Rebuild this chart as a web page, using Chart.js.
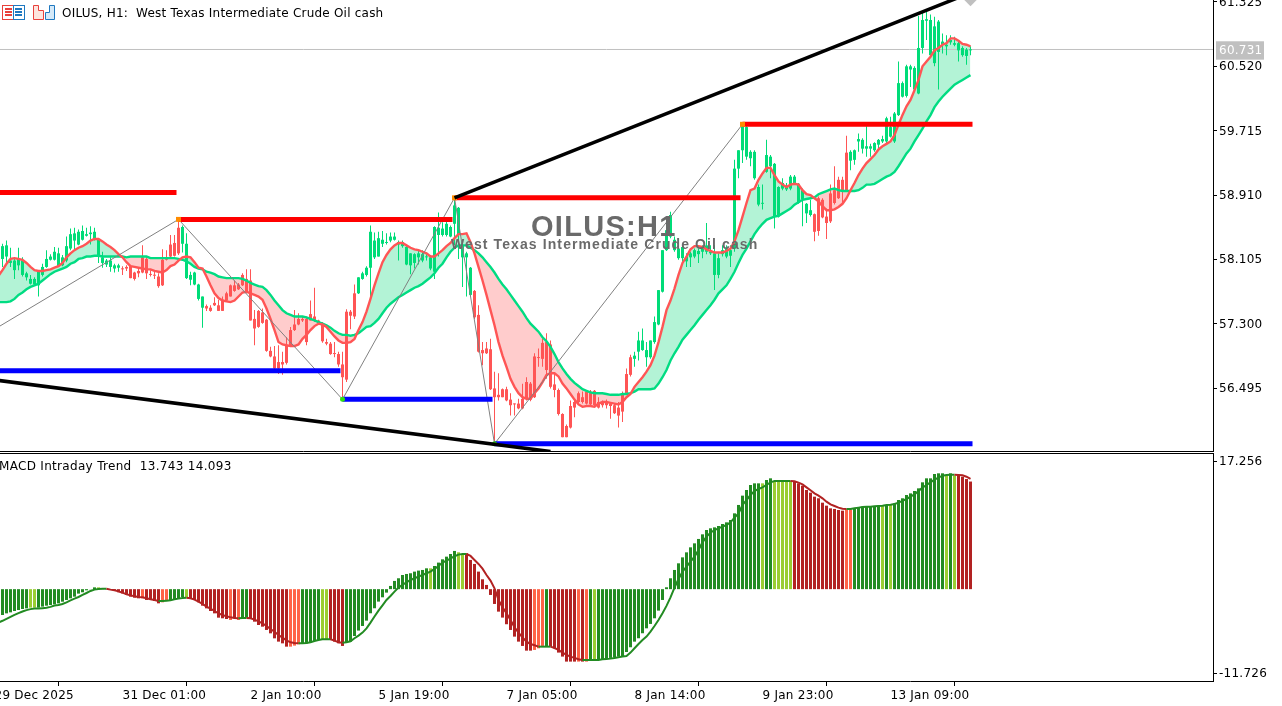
<!DOCTYPE html>
<html>
<head>
<meta charset="utf-8">
<title>OILUS, H1</title>
<script src="https://cdn.jsdelivr.net/npm/chart.js@4"></script>
<style>
  html, body { margin: 0; padding: 0; background: #fff; overflow: hidden; }
  #stage { position: relative; width: 1282px; height: 706px; overflow: hidden; }
  canvas { position: absolute; left: 0; display: block; }
  #priceChart { top: 0; }
  #macdChart { top: 454px; }
  #sep { position: absolute; left: 0; top: 453px; width: 1214px; height: 1px; background: #000; }
  .label { position: absolute; font: 12px "DejaVu Sans", sans-serif; letter-spacing: 0.22px; color: #000; white-space: pre; line-height: 14px; }
  svg { position: absolute; top: 4px; }
</style>
</head>
<body>
<div id="stage">
  <canvas id="priceChart" width="1282" height="452"></canvas>
  <div id="sep"></div>
  <canvas id="macdChart" width="1282" height="252"></canvas>
  <svg style="left:2px" width="23" height="17" viewBox="0 0 23 17">
    <rect x="0.5" y="1.5" width="11" height="14" fill="#fff" stroke="#e8413c"/>
    <rect x="11.5" y="1.5" width="11" height="14" fill="#fff" stroke="#1f78c0"/>
    <path d="M3 5h7M3 8h7M3 11h7" stroke="#e8413c" stroke-width="2"/>
    <path d="M13 5h7M13 8h7M13 11h7" stroke="#1f78c0" stroke-width="2"/>
  </svg>
  <svg style="left:33px" width="23" height="17" viewBox="0 0 23 17">
    <path d="M0.5 1.5h5v5h5v9h-10z" fill="#fde4de" stroke="#e8413c"/>
    <path d="M12.5 15.5v-7h4v-7h5v14z" fill="#d5e9f8" stroke="#1f78c0"/>
  </svg>
  <div class="label" style="left:62px;top:6px">OILUS, H1:  West Texas Intermediate Crude Oil cash</div>
  <div class="label" style="left:-1px;top:459px;letter-spacing:0.31px">MACD Intraday Trend  13.743 14.093</div>
</div>
<script>
const xTickIndex = [-2, 30, 62, 94, 126, 158, 190, 222];
const xTickLabels = ["29 Dec 2025", "31 Dec 01:00", "2 Jan 10:00", "5 Jan 19:00", "7 Jan 05:00", "8 Jan 14:00", "9 Jan 23:00", "13 Jan 09:00"];

const priceTicks = [61.325, 60.731, 60.520, 59.715, 58.910, 58.105, 57.300, 56.495];
const currentPrice = 60.731;
const macdTickValues = [16.36, -10.71];
const macdTickLabels = ["17.256", "-11.726"];

const highs = [
  58.30,58.34,58.25,58.13,58.25,58.13,57.95,57.91,57.88,57.96,
  58.05,58.22,58.17,58.26,58.25,58.16,58.39,58.49,58.50,58.48,
  58.53,58.50,58.52,58.50,58.35,58.20,58.11,58.13,58.05,58.05,
  58.02,58.03,58.02,57.95,57.99,58.28,58.13,57.97,57.95,57.93,
  58.23,58.22,58.41,58.41,58.60,58.53,58.43,57.95,57.95,57.80,
  57.64,57.54,57.53,57.63,57.60,57.64,57.70,57.79,57.84,57.81,
  57.93,57.98,57.98,57.47,57.47,57.49,57.36,57.01,57.02,57.03,
  56.95,57.13,57.26,57.47,57.43,57.39,57.39,57.59,57.75,57.35,
  57.32,57.11,57.07,57.07,56.95,56.95,57.48,57.47,57.79,57.88,
  57.95,58.02,58.53,58.44,58.45,58.46,58.43,58.44,58.44,58.34,
  58.34,58.29,58.18,58.18,58.22,58.22,58.18,58.16,58.52,58.69,
  58.57,58.59,58.53,58.87,58.76,58.30,58.20,58.01,57.72,57.53,
  57.07,57.07,57.11,56.70,56.68,56.49,56.51,56.43,56.30,56.36,
  56.55,56.63,56.57,56.93,56.99,57.11,57.18,57.09,56.68,56.49,
  56.18,56.04,56.34,56.34,56.45,56.45,56.47,56.47,56.47,56.38,
  56.34,56.35,56.32,56.30,56.32,56.45,56.74,56.91,56.95,57.20,
  57.24,57.07,57.09,57.39,57.72,58.22,58.55,58.70,58.39,58.26,
  58.28,58.18,58.20,58.24,58.24,58.28,58.56,58.28,58.28,58.18,
  58.28,58.28,58.28,59.35,59.47,59.79,59.77,59.47,59.47,59.04,
  59.04,59.60,59.41,59.31,59.02,59.12,59.06,59.16,59.16,59.06,
  58.99,58.81,58.85,58.68,58.89,58.87,58.74,59.04,59.27,59.14,
  59.14,59.65,59.47,59.48,59.68,59.62,59.77,59.55,59.57,59.61,
  59.65,59.89,59.89,59.95,60.58,60.33,60.54,60.54,60.52,61.15,
  61.19,61.20,61.17,61.14,61.10,60.93,60.91,60.91,60.89,60.83,
  60.77,60.75,60.77
];
const lows = [
  58.01,58.05,58.01,57.86,57.97,57.89,57.84,57.79,57.78,57.64,
  57.89,58.00,58.09,58.09,58.01,58.02,58.07,58.22,58.23,58.28,
  58.34,58.39,58.29,58.34,58.06,58.00,58.01,57.95,57.94,57.95,
  57.91,57.96,57.87,57.84,57.88,57.93,57.86,57.89,57.86,57.75,
  57.77,58.09,58.13,58.14,58.16,58.19,57.86,57.78,57.78,57.59,
  57.25,57.46,57.45,57.52,57.46,57.46,57.57,57.64,57.70,57.72,
  57.77,57.68,57.34,57.03,57.25,57.30,56.95,56.88,56.73,56.67,
  56.66,56.79,57.01,57.21,57.28,57.32,57.03,57.34,57.32,57.29,
  57.06,57.03,56.91,56.88,56.76,56.35,56.57,57.23,57.36,57.67,
  57.85,57.89,57.61,58.11,58.14,58.26,58.29,58.32,58.34,58.09,
  58.25,58.03,57.92,57.99,58.04,58.07,58.09,57.97,57.86,58.14,
  58.39,58.39,58.38,58.28,58.11,57.76,57.64,57.64,57.36,56.94,
  56.78,56.92,56.47,55.80,56.34,56.38,56.33,56.15,56.15,56.23,
  56.23,56.34,56.33,56.37,56.76,56.76,56.61,56.49,56.38,56.15,
  55.88,55.88,55.99,56.13,56.30,56.30,56.29,56.27,56.26,56.24,
  56.25,56.24,56.11,56.17,56.00,56.07,56.42,56.64,56.76,56.84,
  56.96,56.76,56.86,57.05,57.28,57.69,58.21,58.37,58.20,58.10,
  58.06,58.01,58.01,58.12,58.06,58.12,58.17,58.16,57.72,57.87,
  58.14,58.12,58.01,58.20,59.12,59.31,59.35,59.27,59.10,58.77,
  58.73,59.19,59.12,58.49,58.63,58.97,58.96,58.97,59.05,58.80,
  58.52,58.56,58.64,58.33,58.40,58.62,58.36,58.56,58.79,58.86,
  58.81,58.96,59.22,59.29,59.45,59.43,59.39,59.39,59.45,59.49,
  59.56,59.56,59.63,59.56,59.90,60.13,60.13,60.26,60.22,60.17,
  60.68,60.85,60.64,60.52,60.23,60.68,60.66,60.79,60.77,60.58,
  60.64,60.54,60.66
];
const bodyTops = [
  58.27,58.28,58.09,58.09,58.11,58.09,57.93,57.86,57.86,57.95,
  58.01,58.11,58.14,58.20,58.18,58.13,58.27,58.42,58.43,58.45,
  58.46,58.42,58.44,58.45,58.35,58.13,58.09,58.09,58.03,58.03,
  57.99,58.01,58.02,57.94,57.96,58.13,58.11,57.92,57.91,57.89,
  58.10,58.13,58.29,58.31,58.50,58.51,58.30,57.91,57.94,57.79,
  57.64,57.52,57.50,57.56,57.53,57.60,57.68,57.78,57.78,57.79,
  57.91,57.86,57.84,57.36,57.46,57.44,57.35,56.96,56.89,56.82,
  56.82,57.03,57.22,57.29,57.36,57.36,57.36,57.42,57.39,57.34,
  57.29,57.07,57.05,56.93,56.92,56.79,57.45,57.45,57.68,57.88,
  57.93,58.00,58.45,58.34,58.37,58.35,58.32,58.39,58.39,58.32,
  58.32,58.26,58.18,58.17,58.18,58.17,58.14,58.13,58.51,58.50,
  58.49,58.55,58.51,58.78,58.75,58.28,58.18,58.00,57.71,57.41,
  56.97,56.99,56.98,56.49,56.41,56.48,56.48,56.35,56.30,56.30,
  56.36,56.57,56.55,56.89,56.88,57.06,57.07,57.04,56.54,56.47,
  56.17,56.02,56.27,56.32,56.43,56.38,56.45,56.45,56.46,56.32,
  56.31,56.32,56.30,56.28,56.25,56.43,56.67,56.88,56.90,57.09,
  57.09,56.97,57.09,57.32,57.72,58.22,58.47,58.66,58.35,58.24,
  58.26,58.14,58.18,58.22,58.21,58.24,58.28,58.20,58.18,58.12,
  58.22,58.24,58.22,59.24,59.47,59.77,59.76,59.45,59.45,59.01,
  58.81,59.41,59.39,59.30,59.01,59.06,59.01,59.14,59.14,59.05,
  58.97,58.80,58.72,58.67,58.87,58.85,58.64,58.93,58.97,59.10,
  59.10,59.44,59.45,59.47,59.61,59.60,59.52,59.52,59.56,59.60,
  59.61,59.87,59.76,59.93,60.31,60.31,60.52,60.52,60.50,60.75,
  61.10,61.11,61.10,61.02,61.08,60.83,60.79,60.85,60.81,60.81,
  60.75,60.73,60.73
];
const bodyBottoms = [
  58.11,58.14,58.06,57.97,58.03,57.91,57.88,57.80,57.79,57.78,
  57.91,58.01,58.10,58.10,58.02,58.03,58.09,58.24,58.34,58.29,
  58.35,58.40,58.42,58.35,58.14,58.06,58.04,58.01,57.99,58.00,
  57.98,57.99,57.87,57.86,57.93,57.94,57.93,57.91,57.90,57.77,
  57.78,58.10,58.14,58.15,58.18,58.30,57.87,57.85,57.79,57.61,
  57.50,57.49,57.46,57.53,57.46,57.46,57.59,57.64,57.71,57.73,
  57.78,57.70,57.34,57.24,57.26,57.31,56.96,56.89,56.74,56.74,
  56.79,56.81,57.02,57.22,57.29,57.34,57.07,57.34,57.34,57.31,
  57.08,57.05,56.92,56.92,56.79,56.63,56.60,57.40,57.39,57.68,
  57.86,57.91,58.00,58.13,58.14,58.30,58.31,58.34,58.35,58.29,
  58.27,58.04,58.03,58.06,58.13,58.09,58.13,57.99,57.95,58.41,
  58.41,58.41,58.39,58.55,58.41,58.13,58.13,57.66,57.38,56.95,
  56.93,56.93,56.48,56.38,56.38,56.38,56.34,56.28,56.29,56.24,
  56.24,56.36,56.35,56.38,56.87,56.86,56.72,56.51,56.47,56.17,
  55.88,55.88,56.00,56.25,56.32,56.32,56.30,56.29,56.28,56.25,
  56.28,56.28,56.27,56.18,56.15,56.20,56.43,56.66,56.86,56.95,
  56.97,56.88,56.88,57.07,57.29,57.70,58.22,58.39,58.22,58.12,
  58.12,58.08,58.13,58.14,58.17,58.20,58.20,58.18,57.91,57.91,
  58.17,58.14,58.15,58.24,59.24,59.47,59.39,59.37,59.12,58.79,
  58.80,59.20,59.27,58.64,58.64,58.99,58.98,58.99,59.06,58.81,
  58.86,58.68,58.66,58.45,58.46,58.63,58.56,58.58,58.81,58.87,
  58.95,58.97,59.34,59.35,59.58,59.49,59.49,59.49,59.47,59.54,
  59.58,59.58,59.64,59.58,59.91,60.14,60.15,60.48,60.23,60.18,
  60.75,61.09,60.66,60.56,60.70,60.79,60.77,60.82,60.79,60.72,
  60.66,60.65,60.72
];
const fastMa = [
  57.97,58.05,58.11,58.12,58.11,58.10,58.06,58.01,57.97,57.96,
  57.96,57.97,57.98,58.00,58.02,58.06,58.13,58.18,58.22,58.25,
  58.27,58.30,58.34,58.36,58.36,58.33,58.29,58.26,58.22,58.17,
  58.13,58.07,58.02,58.01,58.00,57.99,57.98,57.98,57.96,57.95,
  57.94,57.97,58.02,58.04,58.09,58.13,58.14,58.13,58.07,58.00,
  57.99,57.89,57.78,57.68,57.62,57.59,57.58,57.57,57.59,57.64,
  57.69,57.70,57.68,57.66,57.64,57.60,57.49,57.36,57.22,57.07,
  57.04,57.03,57.02,57.02,57.04,57.11,57.16,57.22,57.27,57.30,
  57.29,57.26,57.20,57.14,57.09,57.06,57.06,57.07,57.11,57.22,
  57.32,57.45,57.61,57.78,57.93,58.07,58.16,58.23,58.28,58.31,
  58.31,58.28,58.25,58.23,58.22,58.20,58.18,58.14,58.14,58.18,
  58.22,58.27,58.31,58.37,58.42,58.42,58.43,58.32,58.18,58.01,
  57.84,57.66,57.47,57.28,57.07,56.90,56.76,56.61,56.51,56.43,
  56.38,56.36,56.36,56.43,56.49,56.57,56.66,56.68,56.68,56.64,
  56.55,56.49,56.42,56.35,56.29,56.26,56.27,56.27,56.26,56.30,
  56.32,56.32,56.31,56.30,56.29,56.32,56.38,56.42,56.51,56.57,
  56.63,56.70,56.78,56.90,57.07,57.26,57.47,57.59,57.74,57.91,
  58.06,58.14,58.23,58.27,58.27,58.26,58.23,58.21,58.19,58.19,
  58.19,58.21,58.24,58.33,58.47,58.64,58.81,58.97,58.99,59.10,
  59.18,59.25,59.25,59.16,59.08,59.04,59.01,59.04,59.05,59.04,
  58.97,58.92,58.91,58.87,58.83,58.77,58.72,58.72,58.73,58.76,
  58.80,58.87,58.97,59.06,59.16,59.24,59.31,59.36,59.41,59.48,
  59.52,59.55,59.58,59.66,59.79,59.91,60.02,60.10,60.22,60.35,
  60.52,60.58,60.64,60.72,60.75,60.79,60.81,60.87,60.87,60.84,
  60.80,60.79,60.77
];
const slowMa = [
  57.57,57.57,57.58,57.61,57.66,57.69,57.73,57.76,57.78,57.80,
  57.84,57.88,57.92,57.95,57.97,57.99,58.01,58.05,58.07,58.11,
  58.12,58.14,58.14,58.15,58.15,58.14,58.14,58.14,58.14,58.14,
  58.14,58.13,58.14,58.14,58.14,58.14,58.14,58.12,58.12,58.12,
  58.12,58.12,58.12,58.12,58.11,58.10,58.08,58.05,58.01,57.99,
  57.98,57.95,57.94,57.92,57.89,57.88,57.87,57.87,57.87,57.87,
  57.86,57.84,57.81,57.79,57.77,57.76,57.72,57.66,57.59,57.53,
  57.47,57.43,57.41,57.39,57.39,57.39,57.38,57.36,57.34,57.32,
  57.30,57.28,57.25,57.21,57.18,57.16,57.16,57.15,57.16,57.18,
  57.22,57.26,57.27,57.31,57.36,57.43,57.50,57.55,57.59,57.63,
  57.66,57.69,57.72,57.75,57.77,57.80,57.84,57.88,57.93,58.00,
  58.05,58.13,58.20,58.25,58.28,58.28,58.28,58.25,58.22,58.18,
  58.13,58.07,58.01,57.94,57.86,57.79,57.73,57.66,57.59,57.52,
  57.45,57.37,57.30,57.25,57.20,57.13,57.08,57.01,56.92,56.82,
  56.74,56.67,56.61,56.56,56.52,56.48,56.46,56.44,56.43,56.43,
  56.43,56.42,56.41,56.41,56.41,56.42,56.42,56.43,56.45,56.48,
  56.48,56.48,56.48,56.49,56.55,56.63,56.72,56.84,56.93,57.01,
  57.10,57.16,57.22,57.28,57.35,57.41,57.47,57.53,57.60,57.68,
  57.73,57.78,57.86,57.95,58.06,58.16,58.24,58.33,58.42,58.49,
  58.55,58.60,58.62,58.64,58.65,58.68,58.71,58.74,58.79,58.82,
  58.85,58.86,58.87,58.88,58.92,58.94,58.96,58.98,58.99,58.97,
  58.96,58.96,58.96,58.96,58.97,59.00,59.04,59.04,59.05,59.08,
  59.11,59.14,59.16,59.20,59.27,59.35,59.43,59.49,59.58,59.66,
  59.74,59.83,59.91,60.01,60.08,60.14,60.19,60.24,60.29,60.32,
  60.35,60.38,60.41
];
// value of each line one bar before the first bar, just off the left edge
const fastMaLead = 57.90;
const slowMaLead = 57.57;
const macdSignalLead = -4.25;

const macdHist = [
  -3.30,-3.09,-2.96,-2.79,-2.66,-2.53,-2.45,-2.36,-2.36,-2.36,
  -2.23,-2.11,-2.02,-1.94,-1.81,-1.60,-1.38,-1.17,-0.96,-0.57,
  -0.40,-0.15,-0.02,0.23,0.23,-0.02,-0.02,-0.11,-0.23,-0.40,
  -0.53,-0.74,-0.96,-1.09,-1.17,-1.17,-1.38,-1.38,-1.51,-1.81,
  -1.68,-1.51,-1.51,-1.26,-1.17,-1.00,-1.09,-1.17,-1.38,-1.68,
  -2.11,-2.45,-2.79,-3.09,-3.64,-3.72,-3.81,-3.94,-3.72,-3.94,
  -3.72,-3.64,-3.72,-4.15,-4.58,-4.79,-5.21,-5.64,-6.28,-6.70,
  -6.92,-7.34,-7.34,-7.21,-7.04,-6.92,-6.92,-6.79,-6.62,-6.49,
  -6.49,-6.41,-6.49,-6.70,-6.91,-7.25,-6.83,-6.70,-5.98,-5.29,
  -4.70,-4.02,-3.08,-2.44,-1.59,-1.04,-0.44,0.41,1.05,1.39,
  1.81,1.94,2.03,2.24,2.37,2.45,2.66,2.66,2.96,3.39,
  3.81,4.15,4.49,4.88,4.71,4.45,4.58,3.73,3.22,2.24,
  1.26,0.54,-0.74,-1.89,-2.87,-3.63,-4.48,-5.21,-6.06,-6.70,
  -7.25,-7.85,-7.85,-7.76,-7.55,-7.25,-7.34,-7.34,-7.55,-8.10,
  -8.61,-9.25,-9.25,-9.25,-9.25,-9.25,-9.25,-9.04,-8.95,-8.95,
  -8.95,-8.87,-8.78,-8.70,-8.61,-8.61,-8.02,-7.42,-6.70,-6.27,
  -5.63,-5.00,-4.44,-3.72,-2.74,-1.38,0.24,1.39,2.45,3.30,
  4.06,4.70,5.34,5.85,6.41,7.00,7.55,7.77,7.89,8.06,
  8.32,8.53,8.83,9.68,10.75,11.94,12.66,13.30,13.51,13.51,
  13.51,13.94,14.15,13.81,13.81,13.81,13.81,13.81,13.73,13.51,
  13.21,12.66,12.32,11.81,11.60,11.04,10.66,10.32,10.24,10.11,
  10.02,10.19,10.19,10.32,10.41,10.53,10.53,10.53,10.53,10.66,
  10.62,10.75,10.75,10.96,11.38,11.60,12.02,12.23,12.53,12.87,
  13.64,14.15,14.15,14.70,14.79,14.79,14.49,14.79,14.49,14.57,
  14.36,14.06,13.74
];
const macdSignal = [
  -4.04,-3.79,-3.53,-3.28,-3.06,-2.85,-2.68,-2.55,-2.47,-2.47,
  -2.43,-2.38,-2.26,-2.09,-2.02,-1.89,-1.68,-1.43,-1.21,-1.00,
  -0.74,-0.49,-0.23,-0.06,0.02,0.06,0.06,-0.06,-0.15,-0.28,
  -0.45,-0.66,-0.79,-0.91,-1.00,-1.04,-1.17,-1.30,-1.38,-1.51,
  -1.51,-1.47,-1.43,-1.30,-1.21,-1.13,-1.09,-1.17,-1.34,-1.60,
  -1.89,-2.23,-2.49,-2.79,-3.09,-3.30,-3.47,-3.60,-3.68,-3.72,
  -3.68,-3.68,-3.72,-3.89,-4.11,-4.36,-4.70,-5.09,-5.43,-5.85,
  -6.19,-6.53,-6.79,-6.87,-6.92,-6.92,-6.87,-6.79,-6.62,-6.49,
  -6.41,-6.41,-6.40,-6.57,-6.78,-6.83,-6.78,-6.66,-6.27,-5.93,
  -5.55,-5.00,-4.27,-3.50,-2.74,-2.06,-1.38,-0.87,-0.32,0.20,
  0.54,0.88,1.17,1.39,1.60,1.81,2.03,2.24,2.58,2.96,
  3.39,3.65,3.90,4.20,4.41,4.49,4.49,4.24,3.73,3.22,
  2.62,1.81,1.09,0.11,-1.38,-2.32,-3.08,-3.93,-4.87,-5.55,
  -6.15,-6.70,-7.00,-7.17,-7.34,-7.34,-7.34,-7.34,-7.51,-7.76,
  -8.10,-8.40,-8.61,-8.78,-8.95,-9.04,-9.04,-9.04,-9.04,-9.04,
  -8.95,-8.91,-8.87,-8.78,-8.70,-8.61,-8.53,-8.10,-7.55,-7.00,
  -6.49,-6.06,-5.42,-4.70,-3.93,-3.08,-2.14,-1.04,0.19,1.30,
  2.23,2.87,3.51,4.15,5.00,5.98,6.71,7.21,7.55,7.77,
  7.98,8.19,8.53,9.13,9.68,10.75,11.38,12.02,12.53,12.79,
  13.00,13.30,13.64,13.81,13.81,13.81,13.81,13.81,13.77,13.60,
  13.38,13.00,12.62,12.23,11.94,11.60,11.17,10.83,10.62,10.41,
  10.28,10.24,10.24,10.32,10.41,10.49,10.53,10.53,10.58,10.62,
  10.66,10.75,10.79,10.87,11.04,11.26,11.51,11.81,12.11,12.53,
  12.96,13.30,13.64,13.98,14.24,14.49,14.57,14.62,14.62,14.57,
  14.53,14.36,14.09
];
// histogram colour changes: state applies from that bar until the next start
const histStateStarts = [0,7,9,24,25,35,36,40,42,46,47,57,58,59,60,62,72,75,80,82,86,107,108,114,116,133,136,137,144,145,146,147,148,149,190,191,193,198,211,213,220,221,222,223,236,237,238,239];
const histStates = ["g","y","g","y","r","t","r","t","g","y","r","t","r","t","g","r","t","g","y","r","g","y","g","y","r","t","g","r","t","r","t","g","y","g","y","g","y","r","t","g","y","g","y","g","y","g","y","r"];

const zigzagBars = [-1, 44, 85, 113, 123, 185];
const zigzagValues = [57.26, 58.605, 56.353, 58.875, 55.797, 59.795];

const resistanceStarts = [-1, 44, 113, 185];
const resistanceEnds = [43.5, 112.5, 184.5, 242.5];
const resistanceValues = [58.94, 58.605, 58.875, 59.795];
const supportStarts = [-1, 85, 123];
const supportEnds = [84.5, 122.5, 242.5];
const supportValues = [56.71, 56.353, 55.797];

const upperTrendBars = [113, 246];
const upperTrendValues = [58.875, 61.52];
const lowerTrendBars = [-1, 137];
const lowerTrendValues = [56.59, 55.70];

const bars = highs.map((_, i) => i);
const GREEN = "#00dc78", RED = "#ff5555";
const candleColors = bars.map(i => fastMa[i] >= slowMa[i] ? GREEN : RED);
const histPalette = {g: "#228b22", y: "#9acd32", r: "#b22222", t: "#ff6347"};
const histColors = bars.map(i => {
  let k = 0;
  while (k + 1 < histStateStarts.length && histStateStarts[k + 1] <= i) k++;
  return histPalette[histStates[k]];
});

function segments(starts, ends, values) {
  const pts = [];
  starts.forEach((s, k) => {
    pts.push({x: s, y: values[k]}, {x: ends[k], y: values[k]}, {x: ends[k], y: null});
  });
  return pts;
}
const pairs = (xs, ys) => xs.map((x, k) => ({x, y: ys[k]}));

const FONT = {family: "'DejaVu Sans', sans-serif", size: 12};
const X_MIN = -0.625, X_MAX = 302.625;

// scales would otherwise pull the chart area in to fit their end labels
function noPadding(scale) {
  scale.paddingLeft = scale.paddingRight = scale.paddingTop = scale.paddingBottom = 0;
}
function axisWidth(scale) { scale.width = 69; noPadding(scale); }

const axisText = {
  id: "axisText",
  beforeDraw(chart) { chart.ctx.letterSpacing = "0.25px"; }
};

const watermark = {
  id: "watermark",
  afterDatasetsDraw(chart) {
    const c = chart.ctx;
    c.save();
    c.fillStyle = "#6a6a6a";
    c.textBaseline = "alphabetic";
    c.font = "bold 29px 'Liberation Sans', sans-serif";
    c.letterSpacing = "1.3px";
    c.fillText("OILUS:H1", 531, 236);
    c.font = "bold 14px 'Liberation Sans', sans-serif";
    c.letterSpacing = "1.1px";
    c.fillText("West Texas Intermediate Crude Oil cash", 451, 249);
    c.restore();
  }
};

const lineBase = {type: "line", pointRadius: 0, borderCapStyle: "butt", tension: 0};

new Chart(document.querySelector("#priceChart"), {
  data: {
    datasets: [
      {...lineBase, label: "Fast MA", data: [{x: -1, y: fastMaLead}, ...pairs(bars, fastMa)], borderColor: RED, borderWidth: 2.4, order: 3,
        fill: {target: 1, above: "#b3f3d6", below: "#ffcccc"}},
      {...lineBase, label: "Slow MA", data: [{x: -1, y: slowMaLead}, ...pairs(bars, slowMa)], borderColor: "#00dc82", borderWidth: 2.4, order: 4},
      {type: "bar", label: "Wicks", data: bars.map(i => ({x: i, y: [lows[i], highs[i]]})), backgroundColor: candleColors,
        barThickness: 1, grouped: false, inflateAmount: 0, order: 9},
      {type: "bar", label: "Bodies", data: bars.map(i => ({x: i, y: [bodyBottoms[i], bodyTops[i]]})), backgroundColor: candleColors,
        barThickness: 3, grouped: false, inflateAmount: 0, minBarLength: 1, order: 8},
      {...lineBase, label: "Last", data: [{x: X_MIN, y: currentPrice}, {x: X_MAX, y: currentPrice}], borderColor: "#c0c0c0", borderWidth: 1, order: 10},
      {...lineBase, label: "Zigzag", data: pairs(zigzagBars, zigzagValues), borderColor: "#808080", borderWidth: 1, order: 2},
      {...lineBase, label: "Resistance", data: segments(resistanceStarts, resistanceEnds, resistanceValues), borderColor: "#ff0000", borderWidth: 5, order: 1},
      {...lineBase, label: "Support", data: segments(supportStarts, supportEnds, supportValues), borderColor: "#0000ff", borderWidth: 5, order: 1},
      {...lineBase, label: "Upper trend", data: pairs(upperTrendBars, upperTrendValues), borderColor: "#000", borderWidth: 3.5, order: 0},
      {...lineBase, label: "Lower trend", data: pairs(lowerTrendBars, lowerTrendValues), borderColor: "#000", borderWidth: 3.5, order: 0},
      {...lineBase, label: "Pivots", showLine: false, data: pairs(zigzagBars, zigzagValues), order: 0,
        pointStyle: ctx => zigzagValues[ctx.dataIndex] > 58 ? "rect" : "circle",
        pointRadius: ctx => ctx.dataIndex === 0 ? 0 : (zigzagValues[ctx.dataIndex] > 58 ? 3.5 : 2.5),
        pointBackgroundColor: ctx => zigzagValues[ctx.dataIndex] > 58 ? "#ff8c00" : "#32e010",
        pointBorderWidth: 0},
      {...lineBase, label: "Marker", showLine: false, data: [{x: 242, y: 61.36}], order: 0,
        pointStyle: "rectRot", pointRadius: 7, pointBackgroundColor: "#c0c0c0", pointBorderWidth: 0}
    ]
  },
  options: {
    responsive: false,
    animation: false,
    events: [],
    layout: {padding: 0, autoPadding: false},
    plugins: {legend: {display: false}, tooltip: {enabled: false}, filler: {drawTime: "beforeDatasetsDraw"}},
    scales: {
      x: {
        type: "linear", min: X_MIN, max: X_MAX, offset: false,
        grid: {display: false},
        ticks: {display: false},
        border: {display: true, color: "#000"},
        afterFit(scale) { scale.height = 1; noPadding(scale); }
      },
      y: {
        position: "right", min: 55.707, max: 61.35,
        afterBuildTicks(scale) { scale.ticks = priceTicks.map(value => ({value})); },
        afterFit: axisWidth,
        border: {display: true, color: "#000"},
        grid: {drawOnChartArea: false, tickLength: 4, tickColor: ctx => ctx.tick && ctx.tick.value === currentPrice ? "transparent" : "#000"},
        ticks: {
          font: FONT, padding: 2, labelOffset: 1,
          color: ctx => ctx.tick.value === currentPrice ? "#fff" : "#000",
          showLabelBackdrop: ctx => ctx.tick.value === currentPrice,
          backdropColor: "#c0c0c0", backdropPadding: {x: 3, y: 2},
          callback: v => v.toFixed(3)
        }
      }
    }
  },
  plugins: [axisText, watermark]
});

new Chart(document.querySelector("#macdChart"), {
  data: {
    datasets: [
      {...lineBase, label: "Signal", data: [{x: -1, y: macdSignalLead}, ...pairs(bars, macdSignal)], borderWidth: 2, order: 0,
        borderColor: "#228b22",
        segment: {borderColor: ctx => ctx.p1.parsed.y < ctx.p0.parsed.y ? "#b22222" : "#228b22"}},
      {type: "bar", label: "MACD", data: pairs(bars, macdHist), backgroundColor: histColors,
        barThickness: 3, grouped: false, inflateAmount: 0, order: 1}
    ]
  },
  options: {
    responsive: false,
    animation: false,
    events: [],
    layout: {padding: 0, autoPadding: false},
    plugins: {legend: {display: false}, tooltip: {enabled: false}},
    scales: {
      x: {
        type: "linear", min: X_MIN, max: X_MAX, offset: false,
        afterBuildTicks(scale) { scale.ticks = xTickIndex.map(value => ({value})); },
        afterFit(scale) { scale.height = 25; noPadding(scale); },
        border: {display: true, color: "#000"},
        grid: {drawOnChartArea: false, tickLength: 5, tickColor: "#000"},
        ticks: {
          font: FONT, color: "#000", padding: 3, align: "start",
          autoSkip: false, maxRotation: 0, minRotation: 0,
          callback: v => xTickLabels[xTickIndex.indexOf(v)]
        }
      },
      y: {
        position: "right", min: -11.726, max: 17.256,
        afterBuildTicks(scale) { scale.ticks = macdTickValues.map(value => ({value})); },
        afterFit: axisWidth,
        border: {display: true, color: "#000"},
        grid: {drawOnChartArea: false, tickLength: 4, tickColor: "#000"},
        ticks: {
          font: FONT, color: "#000", padding: 2, labelOffset: 1,
          callback: v => macdTickLabels[macdTickValues.indexOf(v)]
        }
      }
    }
  },
  plugins: [axisText]
});
</script>
</body>
</html>
